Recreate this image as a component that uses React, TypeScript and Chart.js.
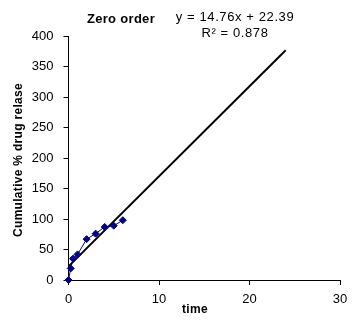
import React, { useEffect, useRef } from 'react';
import { Chart, registerables } from 'chart.js';

Chart.register(...registerables);

const timeValues = [0, 0.25, 0.5, 1, 2, 3, 4, 5, 6];
const releaseValues = [0, 19, 35, 42, 67, 76, 87, 89, 98];
const trendX = [0, 24];
const trendY = [22.39, 376.63];
const chartTitle = 'Zero order';
const equationText = 'y = 14.76x + 22.39';
const r2Text = 'R² = 0.878';
const xTitle = 'time';
const yTitle = 'Cumulative % drug relase';

const FONT = '"Liberation Sans", Arial, sans-serif';

const textPlugin = {
  id: 'texts',
  afterDraw(chart: any) {
    const ctx = chart.ctx as any;
    ctx.save();
    ctx.fillStyle = '#000';
    ctx.textBaseline = 'alphabetic';
    ctx.textAlign = 'center';
    ctx.font = `bold 13px ${FONT}`;
    ctx.letterSpacing = '0.3px';
    ctx.fillText(chartTitle, 121, 22.5);
    ctx.font = `13px ${FONT}`;
    ctx.letterSpacing = '0.6px';
    ctx.fillText(equationText, 235, 20.5);
    ctx.fillText(r2Text, 235, 37);
    ctx.font = `bold 12px ${FONT}`;
    ctx.letterSpacing = '0.3px';
    ctx.fillText(xTitle, 195, 313);
    ctx.translate(22, 160);
    ctx.rotate(-Math.PI / 2);
    ctx.fillText(yTitle, 0, 0);
    ctx.restore();
  },
};

export default function App() {
  const ref = useRef<HTMLCanvasElement | null>(null);
  useEffect(() => {
    document.body.style.margin = '0';
    const canvas = ref.current!;
    const chart = new Chart(canvas, {
      type: 'scatter',
      data: {
        datasets: [
          {
            data: timeValues.map((x, i) => ({ x, y: releaseValues[i] })),
            showLine: true,
            borderColor: '#000080',
            backgroundColor: '#000080',
            borderWidth: 1,
            pointStyle: 'rectRot',
            pointRadius: 3.5,
            pointBorderWidth: 1,
            clip: false as any,
            order: 1,
          },
          {
            data: trendX.map((x, i) => ({ x, y: trendY[i] })),
            showLine: true,
            borderColor: '#000',
            borderWidth: 2,
            pointRadius: 0,
            clip: false as any,
            order: 2,
          },
        ],
      },
      options: {
        animation: false,
        responsive: false,
        maintainAspectRatio: false,
        layout: { padding: { top: 36, right: 21, left: 0, bottom: 0 } },
        plugins: { legend: { display: false }, tooltip: { enabled: false } },
        scales: {
          x: {
            type: 'linear',
            min: 0,
            max: 30,
            ticks: { stepSize: 10, color: '#000', font: { family: FONT, size: 13 }, padding: 7 },
            grid: { drawOnChartArea: false, drawTicks: true, tickLength: 5, color: '#000' },
            border: { color: '#000', width: 1 },
            afterFit: (s: any) => { s.height = 41; },
          },
          y: {
            type: 'linear',
            min: 0,
            max: 400,
            ticks: { stepSize: 50, color: '#000', font: { family: FONT, size: 13 }, padding: 10 },
            grid: { drawOnChartArea: false, drawTicks: true, tickLength: 5, color: '#000' },
            border: { color: '#000', width: 1 },
            afterFit: (s: any) => { s.width = 68.5; },
          },
        },
      },
      plugins: [textPlugin],
    });
    return () => chart.destroy();
  }, []);
  return <canvas ref={ref} width={361} height={321} style={{ display: 'block' }} />;
}
